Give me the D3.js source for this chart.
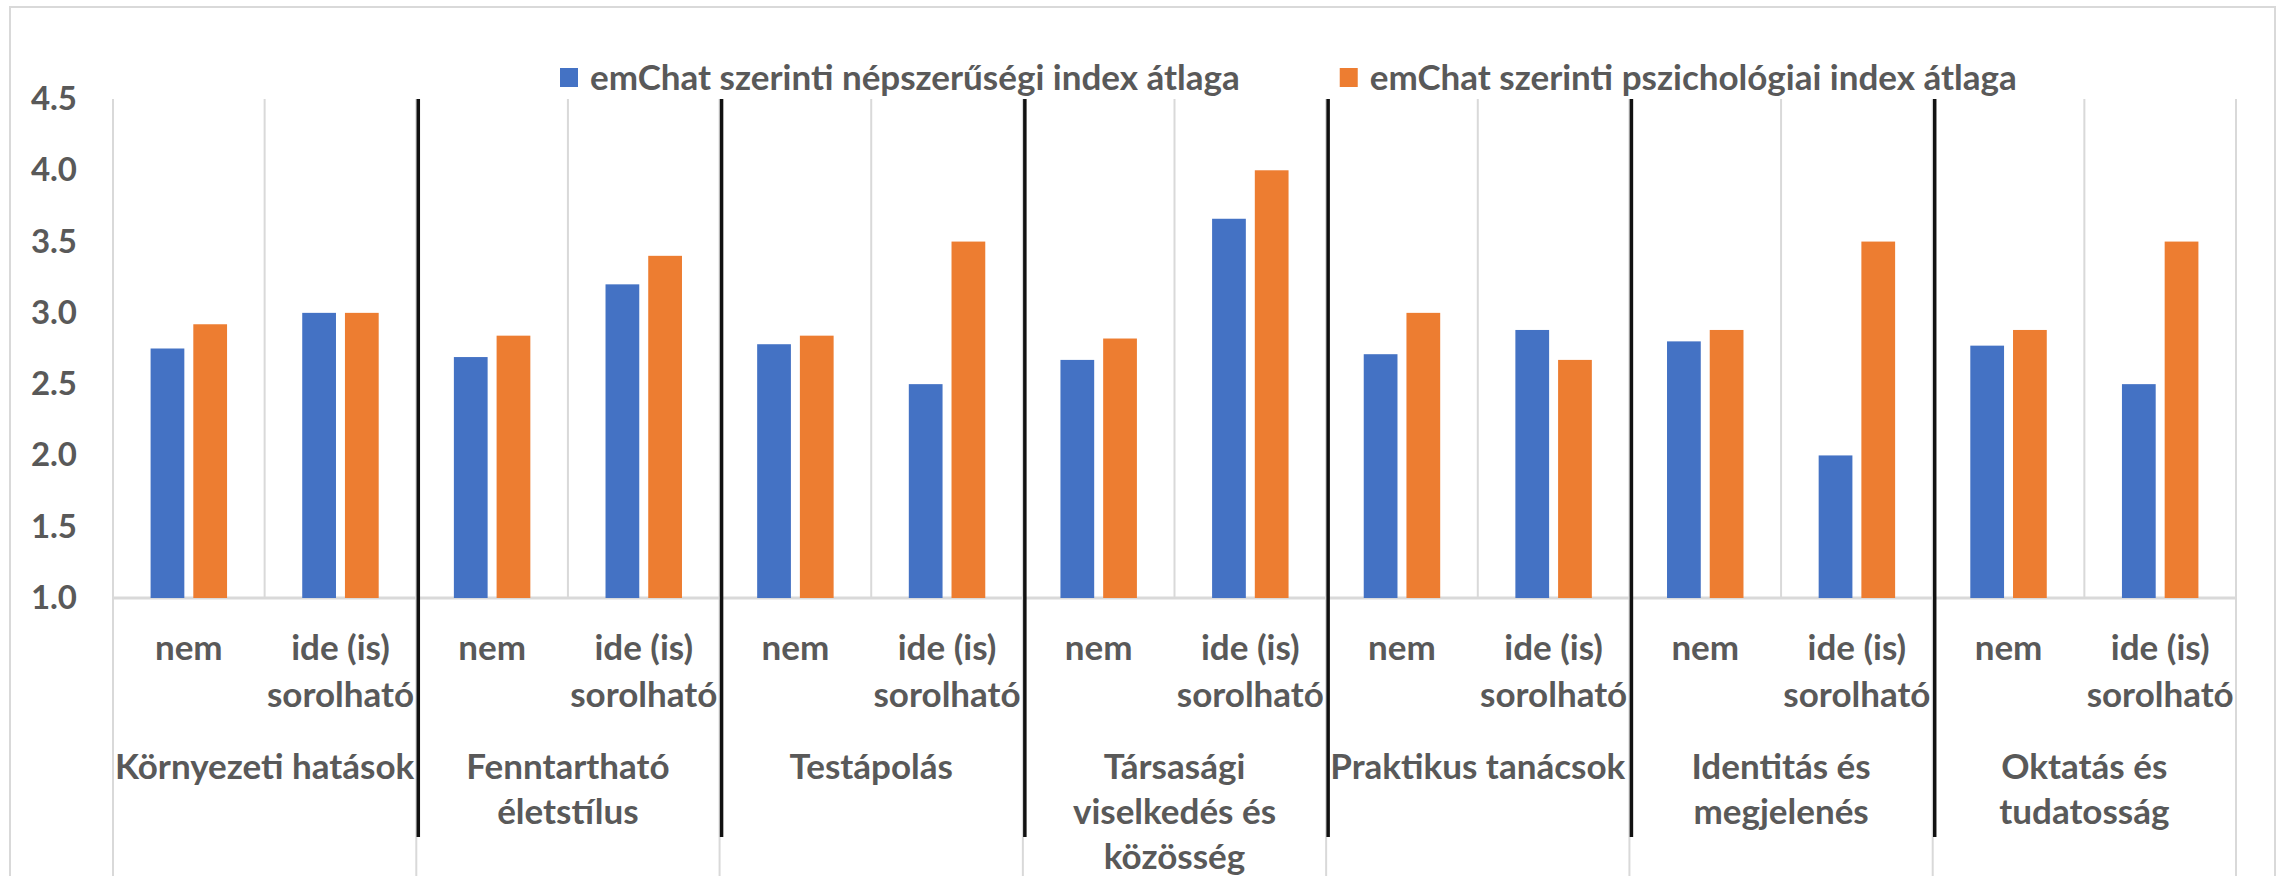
<!DOCTYPE html>
<html>
<head>
<meta charset="utf-8">
<script src="https://cdn.jsdelivr.net/npm/d3@7"></script>
<style>
  body { margin: 0; background: #fff; }
  svg text { font-family: Lato, "Open Sans", sans-serif; font-weight: bold; fill: #595959; }
</style>
</head>
<body>
<svg id="chart"></svg>
<script>

// categories (each label split into its wrapped lines)
var groupLabels = [
    ["Környezeti hatások"],
    ["Fenntartható", "életstílus"],
    ["Testápolás"],
    ["Társasági", "viselkedés és", "közösség"],
    ["Praktikus tanácsok"],
    ["Identitás és", "megjelenés"],
    ["Oktatás és", "tudatosság"]
]
var subLabels = [["nem"], ["ide (is)", "sorolható"]]

var seriesNames = [
    "emChat szerinti népszerűségi index átlaga",
    "emChat szerinti pszichológiai index átlaga"
]

// values, in order group1-nem, group1-ide, group2-nem, ...
var popularity = [2.75, 3.00, 2.69, 3.20, 2.78, 2.50, 2.67, 3.66, 2.71, 2.88, 2.80, 2.00, 2.77, 2.50]
var psychology = [2.92, 3.00, 2.84, 3.40, 2.84, 3.50, 2.82, 4.00, 3.00, 2.67, 2.88, 3.50, 2.88, 3.50]

var yTicks = [1.0, 1.5, 2.0, 2.5, 3.0, 3.5, 4.0, 4.5]

var colors = ["#4472C4", "#ED7D31"]

var dimensions = {
    width: 2277,
    height: 876,
    margin: {
        top: 99,
        bottom: 278,
        right: 41,
        left: 113
    }
}

var svg = d3.select("#chart")
    .attr("width", dimensions.width)
    .attr("height", dimensions.height)

// outer chart frame
svg.append("rect")
    .attr("x", 10)
    .attr("y", 7)
    .attr("width", 2265)
    .attr("height", 900)
    .attr("fill", "none")
    .attr("stroke", "#d9d9d9")
    .attr("stroke-width", 2)

var rows = []
groupLabels.forEach(function (g, gi) {
    subLabels.forEach(function (s, si) {
        var i = gi * subLabels.length + si
        rows.push({ id: i, group: gi, sub: si, values: [popularity[i], psychology[i]] })
    })
})

var plotBottom = dimensions.height - dimensions.margin.bottom
var plotRight = dimensions.width - dimensions.margin.right

var xScale = d3.scaleBand()
    .domain(rows.map(d => d.id))
    .range([dimensions.margin.left, plotRight])
    .padding(0)

var xSeries = d3.scaleBand()
    .domain([0, 1])
    .range([0, xScale.bandwidth()])
    .paddingInner(0.21)
    .paddingOuter(0.88)

var yScale = d3.scaleLinear()
    .domain([1, 4.5])
    .range([plotBottom, dimensions.margin.top])

var step = xScale.bandwidth()

// vertical gridlines between sub categories (only inside the plot)
svg.append("g")
    .selectAll("line")
    .data(rows.filter(d => d.sub == 1))
    .enter()
    .append("line")
    .attr("x1", d => xScale(d.id))
    .attr("x2", d => xScale(d.id))
    .attr("y1", yScale(4.5))
    .attr("y2", yScale(1))
    .attr("stroke", "#d9d9d9")
    .attr("stroke-width", 2)

// group dividers, running down through the axis labels
var groupEdges = d3.range(groupLabels.length + 1)
svg.append("g")
    .selectAll("line")
    .data(groupEdges)
    .enter()
    .append("line")
    .attr("x1", d => dimensions.margin.left + d * 2 * step)
    .attr("x2", d => dimensions.margin.left + d * 2 * step)
    .attr("y1", yScale(4.5))
    .attr("y2", dimensions.height)
    .attr("stroke", "#d9d9d9")
    .attr("stroke-width", 2)

// baseline
svg.append("line")
    .attr("x1", dimensions.margin.left)
    .attr("x2", plotRight)
    .attr("y1", yScale(1))
    .attr("y2", yScale(1))
    .attr("stroke", "#d9d9d9")
    .attr("stroke-width", 3)

// bars
var barGroups = svg.append("g")
    .selectAll("g")
    .data(rows)
    .enter()
    .append("g")
    .attr("transform", d => "translate(" + xScale(d.id) + ",0)")

barGroups.selectAll("rect")
    .data(d => d.values)
    .enter()
    .append("rect")
    .attr("x", (d, i) => xSeries(i))
    .attr("y", d => yScale(d))
    .attr("width", xSeries.bandwidth())
    .attr("height", d => yScale(1) - yScale(d))
    .attr("fill", (d, i) => colors[i])

// black separators drawn over the chart
svg.append("g")
    .selectAll("line")
    .data(groupEdges.slice(1, -1))
    .enter()
    .append("line")
    .attr("x1", d => dimensions.margin.left + d * 2 * step + 2)
    .attr("x2", d => dimensions.margin.left + d * 2 * step + 2)
    .attr("y1", yScale(4.5))
    .attr("y2", 837)
    .attr("stroke", "#111")
    .attr("stroke-width", 3.5)

// y axis
var yAxisgen = d3.axisLeft(yScale)
    .tickValues(yTicks)
    .tickFormat(d3.format(".1f"))
    .tickSize(0)
    .tickPadding(36)

var yAxis = svg.append("g")
    .attr("transform", "translate(" + dimensions.margin.left + ",0)")
    .call(yAxisgen)
yAxis.select(".domain").remove()
yAxis.selectAll("text")
    .style("font-size", "33px")
    .style("font-family", "Lato, sans-serif")
    .style("font-weight", "bold")
    .attr("fill", "#595959")

// sub category labels
var subText = svg.append("g")
    .selectAll("text")
    .data(rows)
    .enter()
    .append("text")
    .attr("x", d => xScale(d.id) + step / 2)
    .attr("y", 660)
    .attr("text-anchor", "middle")
    .style("font-size", "35px")

subText.selectAll("tspan")
    .data(d => subLabels[d.sub])
    .enter()
    .append("tspan")
    .attr("x", function () { return d3.select(this.parentNode).attr("x") })
    .attr("dy", (d, i) => i == 0 ? 0 : 47)
    .text(d => d)

// group labels
var groupText = svg.append("g")
    .selectAll("text")
    .data(groupLabels)
    .enter()
    .append("text")
    .attr("x", (d, i) => dimensions.margin.left + (i + 1) * 2 * step - step)
    .attr("y", 779)
    .attr("text-anchor", "middle")
    .style("font-size", "35px")

groupText.selectAll("tspan")
    .data(d => d)
    .enter()
    .append("tspan")
    .attr("x", function () { return d3.select(this.parentNode).attr("x") })
    .attr("dy", (d, i) => i == 0 ? 0 : 45)
    .text(d => d)

// legend
var legend = svg.append("g")
var lx = 560
seriesNames.forEach(function (name, i) {
    legend.append("rect")
        .attr("x", lx)
        .attr("y", 68)
        .attr("width", 18)
        .attr("height", 19)
        .attr("fill", colors[i])
    var t = legend.append("text")
        .attr("x", lx + 30)
        .attr("y", 90)
        .style("font-size", "35px")
        .text(name)
    lx = lx + 30 + t.node().getComputedTextLength() + 100
})

</script>
</body>
</html>
